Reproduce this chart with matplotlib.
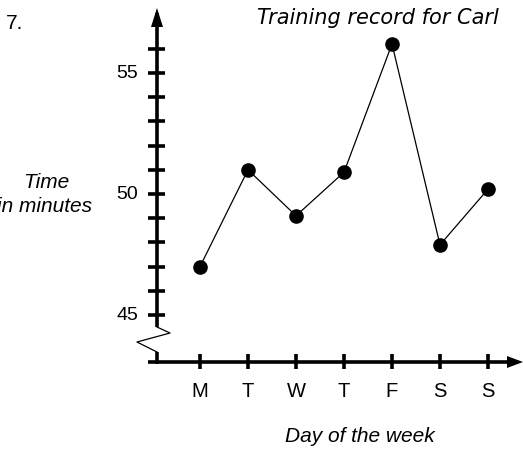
import matplotlib.pyplot as plt
import numpy as np

days = ["M", "T", "W", "T", "F", "S", "S"]
minutes = [47.0, 51.0, 49.1, 50.9, 56.2, 47.9, 50.2]
y_ticks = list(range(45, 57))
y_labels = [45, 50, 55]

plt.rcParams['font.family'] = ['Liberation Sans', 'DejaVu Sans']

fig = plt.figure(figsize=(5.23, 4.51), dpi=100)
ax = fig.add_axes([0, 0, 1, 1])
ax.set_xlim(-3.1667, 7.7292)
ax.set_ylim(39.38, 58.017)
ax.axis("off")

# pixel sizes in data units
dx = 1 / 48.0
dy = 1 / 24.2
left = -3.1667
top = 58.017

x0 = 0.104      # vertical axis position
y0 = 43.058     # horizontal axis position
lw = 2.6

# vertical axis, with a break below 45
ax.plot([x0, x0], [44.504, 57.5], color="black", lw=lw, solid_capstyle="butt")
ax.plot([x0, x0], [y0 - 2 * dy, 43.471], color="black", lw=lw, solid_capstyle="butt")
ax.plot([x0, x0 + 13 * dx, x0 - 20 * dx, x0],
        [44.504, 44.256, 43.884, 43.471], color="black", lw=0.9)
ax.fill([x0 - 6 * dx, x0, x0 + 6 * dx], [top - 27 * dy, top - 8 * dy, top - 27 * dy],
        color="black", lw=0)

# horizontal axis
ax.plot([x0 - 9 * dx, 7.729 - 14 * dx], [y0, y0], color="black", lw=lw, solid_capstyle="butt")
ax.fill([7.729 - 16 * dx, 7.729, 7.729 - 16 * dx], [y0 + 6 * dy, y0, y0 - 6 * dy],
        color="black", lw=0)

# tick marks
for v in y_ticks:
    ax.plot([x0 - 8.5 * dx, x0 + 8.5 * dx], [v, v], color="black", lw=lw, solid_capstyle="butt")
for v in y_labels:
    ax.text(x0 - 19 * dx, v, str(v), ha="right", va="center", fontsize=14)

for i, d in enumerate(days, start=1):
    ax.plot([i, i], [y0 - 7.5 * dy, y0 + 7.5 * dy], color="black", lw=lw, solid_capstyle="butt")
    ax.text(i, y0 - 30 * dy, d, ha="center", va="center", fontsize=14.5)

# training times
xs = np.arange(1, len(minutes) + 1)
ax.plot(xs, minutes, color="black", lw=0.9, marker="o", markersize=9.5)

ax.text(left + 378 * dx, top - 18 * dy, "Training record for Carl",
        ha="center", va="center", fontsize=15, style="italic", family="DejaVu Sans")
ax.text(left + 15 * dx, top - 24 * dy, "7.", ha="center", va="center", fontsize=15)
ax.text(left + 46 * dx, top - 183 * dy, "Time", ha="center", va="center",
        fontsize=15, style="italic")
ax.text(left + 45 * dx, top - 207 * dy, "in minutes", ha="center", va="center",
        fontsize=15, style="italic")
ax.text(left + 360 * dx, top - 437 * dy, "Day of the week", ha="center", va="center",
        fontsize=15, style="italic")

fig.savefig("out.png", dpi=100)
